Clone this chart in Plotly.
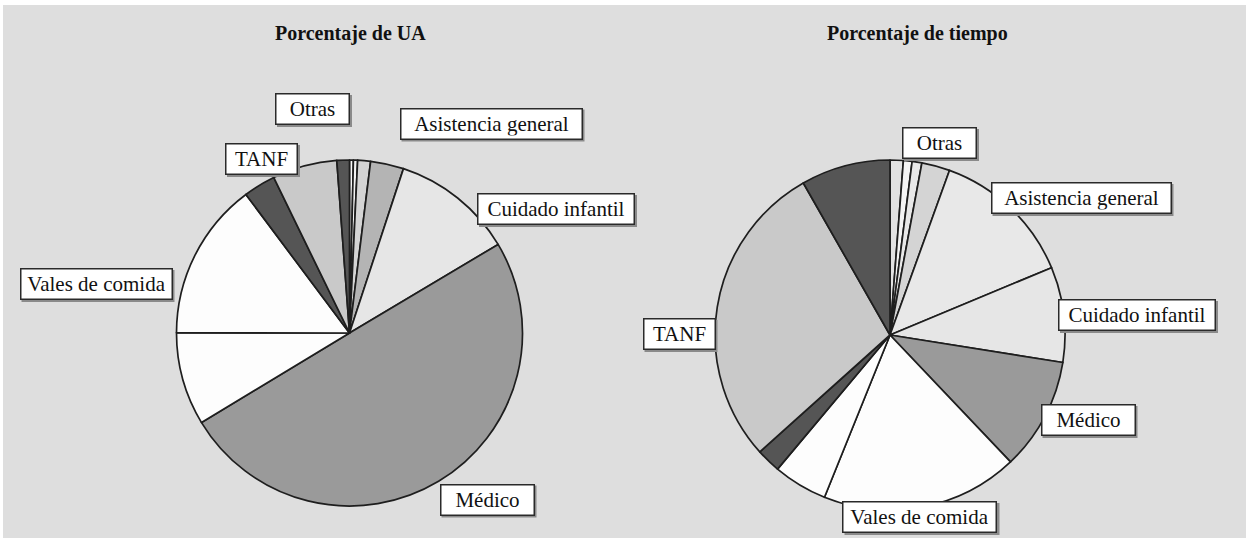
import plotly.graph_objects as go

# Left pie: share of units (UA), slices listed clockwise from 12 o'clock
ua_labels = ["Otras 1", "Otras 2", "Otras 3", "Asistencia general", "Cuidado infantil",
             "Médico", "Otras 4", "Vales de comida", "TANF", "Otras", "Otras 5"]
ua_values = [0.36, 0.39, 1.2, 3.1, 11.4, 49.9, 8.7, 14.75, 3.0, 6.05, 1.17]
ua_colors = ["#f8f8f8", "#f2f2f2", "#d4d4d4", "#b4b4b4", "#e6e6e6",
             "#9a9a9a", "#fdfdfd", "#fdfdfd", "#555555", "#c9c9c9", "#555555"]

# Right pie: share of time, slices listed clockwise from 12 o'clock
tiempo_labels = ["Otras", "Otras 1", "Otras 2", "Otras 3", "Asistencia general",
                 "Cuidado infantil", "Médico", "Vales de comida", "Otras 4",
                 "Otras 5", "TANF", "Otras 6"]
tiempo_values = [1.22, 0.8, 0.9, 2.6, 13.2, 8.8, 10.4, 18.2, 5.0, 2.25, 28.4, 8.25]
tiempo_colors = ["#e2e2e2", "#f4f4f4", "#e8e8e8", "#d4d4d4", "#e8e8e8",
                 "#e6e6e6", "#9a9a9a", "#fdfdfd", "#fdfdfd", "#555555",
                 "#c9c9c9", "#555555"]

W, H = 1246, 538


def dom(cx, cy, r):
    """Pie domain (paper fractions) from a pixel centre and radius."""
    return dict(x=[(cx - r) / W, (cx + r) / W],
                y=[(H - cy - r) / H, (H - cy + r) / H])


fig = go.Figure()
for labels, values, colors, d in [
    (ua_labels, ua_values, ua_colors, dom(349.5, 333, 173)),
    (tiempo_labels, tiempo_values, tiempo_colors, dom(890, 335, 175)),
]:
    fig.add_trace(go.Pie(
        labels=labels, values=values, sort=False, direction="clockwise",
        rotation=0, textinfo="none", showlegend=False, domain=d,
        marker=dict(colors=colors, line=dict(color="#1e1e1e", width=1.7)),
        hoverinfo="label+value",
    ))

# Boxed slice labels: text, pixel centre, box text-area width
box_labels = [
    ("Otras", 312.5, 109, 66), ("Asistencia general", 491, 123.5, 174),
    ("TANF", 261.5, 159, 64), ("Cuidado infantil", 556, 209, 149),
    ("Vales de comida", 96, 284, 144), ("Médico", 487, 499.5, 86),
    ("Otras", 939.5, 143, 66), ("Asistencia general", 1081, 198, 172),
    ("Cuidado infantil", 1137, 315, 149), ("TANF", 679, 334, 64),
    ("Médico", 1088, 420, 86), ("Vales de comida", 920, 517, 146),
]
BOX_H, PAD, BORDER = 23, 3, 1.5

annotations = []
shapes = [dict(type="rect", xref="paper", yref="paper", layer="below",
               x0=3 / W, x1=1, y0=0, y1=1 - 5 / H,
               fillcolor="#dedede", line=dict(width=0))]
for text, x, y, w in box_labels:
    half_w = (w + 2 * (PAD + BORDER)) / 2
    half_h = (BOX_H + 2 * (PAD + BORDER)) / 2
    # soft drop shadow behind each box
    shapes.append(dict(
        type="rect", xref="paper", yref="paper", layer="above",
        x0=(x - half_w + 2) / W, x1=(x + half_w + 2) / W,
        y0=1 - (y + half_h + 2) / H, y1=1 - (y - half_h + 2) / H,
        fillcolor="#8a8a8a", line=dict(width=0),
    ))
    annotations.append(dict(
        text=text, xref="paper", yref="paper", showarrow=False,
        x=x / W, y=1 - y / H, xanchor="center", yanchor="middle",
        width=w, height=BOX_H, borderpad=PAD, borderwidth=BORDER, align="center",
        font=dict(family="Liberation Serif", size=21, color="#111111"),
        bgcolor="#ffffff", bordercolor="#2a2a2a",
    ))

for text, x in [("Porcentaje de UA", 350), ("Porcentaje de tiempo", 917)]:
    annotations.append(dict(
        text="<b>" + text + "</b>", x=x / W, y=1 - 34 / H, xref="paper", yref="paper",
        showarrow=False, xanchor="center", yanchor="middle",
        font=dict(family="Liberation Serif", size=20, color="#111111"),
    ))

fig.update_layout(
    width=W, height=H, margin=dict(l=0, r=0, t=0, b=0),
    paper_bgcolor="#ffffff", plot_bgcolor="#ffffff",
    annotations=annotations, shapes=shapes,
)

fig.write_html("out.html")
